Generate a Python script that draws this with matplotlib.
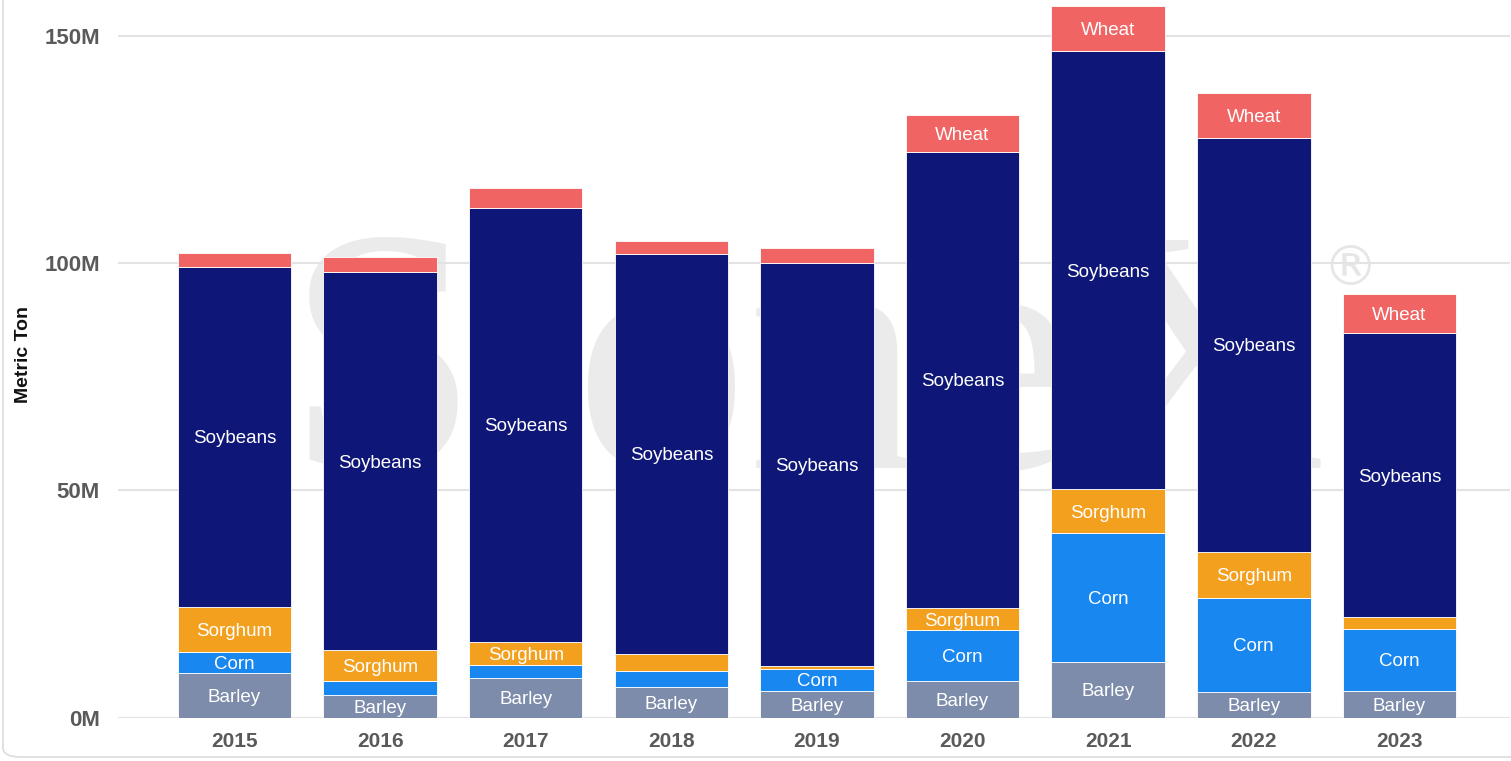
import matplotlib
matplotlib.use("Agg")
import matplotlib.pyplot as plt
from matplotlib.patches import FancyBboxPatch
import numpy as np

years = ["2015", "2016", "2017", "2018", "2019", "2020", "2021", "2022", "2023"]
barley = [9.9, 5.0, 8.8, 6.7, 5.9, 8.1, 12.3, 5.7, 5.9]
corn = [4.6, 3.1, 2.8, 3.6, 4.8, 11.2, 28.4, 20.6, 13.6]
sorghum = [9.9, 6.7, 5.0, 3.7, 0.7, 4.8, 9.5, 10.2, 2.6]
soybeans = [74.8, 83.2, 95.6, 88.0, 88.6, 100.4, 96.5, 91.1, 62.5]
wheat = [3.1, 3.3, 4.3, 2.8, 3.3, 8.1, 9.8, 9.8, 8.5]

series = [
    ("Barley", barley, "#7d8caa"),
    ("Corn", corn, "#1887f0"),
    ("Sorghum", sorghum, "#f3a01e"),
    ("Soybeans", soybeans, "#0e1678"),
    ("Wheat", wheat, "#f06464"),
]
yticks = [0, 50, 100, 150]
ytick_labels = ["0M", "50M", "100M", "150M"]

W, H = 1511, 761
fig = plt.figure(figsize=(W / 100, H / 100), dpi=100)
fig.patch.set_facecolor("white")

# rounded frame
frame = FancyBboxPatch((3 / W, 4 / H), 1.2, 1.2, boxstyle="round,pad=0,rounding_size=0.012",
                       transform=fig.transFigure, facecolor="none", edgecolor="#dcdcdc",
                       linewidth=1.2, zorder=0)
fig.patches.append(frame)

ax = fig.add_axes([118 / W, (H - 717.7) / H, (1510 - 118) / W, 717.7 / H])
ax.set_facecolor("none")

x = np.arange(len(years))
ax.set_xlim(-0.8, 8.76)
ax.set_ylim(0, 717.7 / 4.547)

for yv in yticks:
    ax.axhline(yv, color="#e3e3e3", lw=1.5, zorder=1)

# watermark
ax.text(0.495, 0.465, "StoneX", transform=ax.transAxes, fontsize=250, family="Liberation Serif",
        color="#ebebeb", ha="center", va="center", zorder=0.5)
ax.text(0.885, 0.624, "®", transform=ax.transAxes, fontsize=40, family="DejaVu Sans",
        color="#e6e6e6", ha="center", va="center", zorder=0.5)

bottom = np.zeros(len(years))
for name, vals, col in series:
    vals = np.array(vals)
    ax.bar(x, vals, width=0.78, bottom=bottom, color=col, edgecolor="white", linewidth=0.6, zorder=3)
    for xi, b, v in zip(x, bottom, vals):
        if v >= 4.45:
            ax.text(xi, b + v / 2, name, ha="center", va="center_baseline", color="white",
                    fontsize=13.5, family="Liberation Sans", zorder=4)
    bottom = bottom + vals

ax.set_xticks(x)
ax.set_xticklabels(years, fontsize=15, fontweight="bold", color="#5a5a5a", family="Liberation Sans")
ax.set_yticks(yticks)
ax.set_yticklabels(ytick_labels, fontsize=16, fontweight="bold", color="#5a5a5a", family="Liberation Sans")
ax.tick_params(axis="both", length=0)
ax.tick_params(axis="x", pad=10)
ax.tick_params(axis="y", pad=13)
for s in ax.spines.values():
    s.set_visible(False)

fig.text(24 / W, 1 - 355 / H, "Metric Ton", rotation=90, ha="center", va="center",
         fontsize=14, fontweight="bold", color="#111111", family="Liberation Sans")

fig.savefig("out.png", dpi=100, facecolor="white")
